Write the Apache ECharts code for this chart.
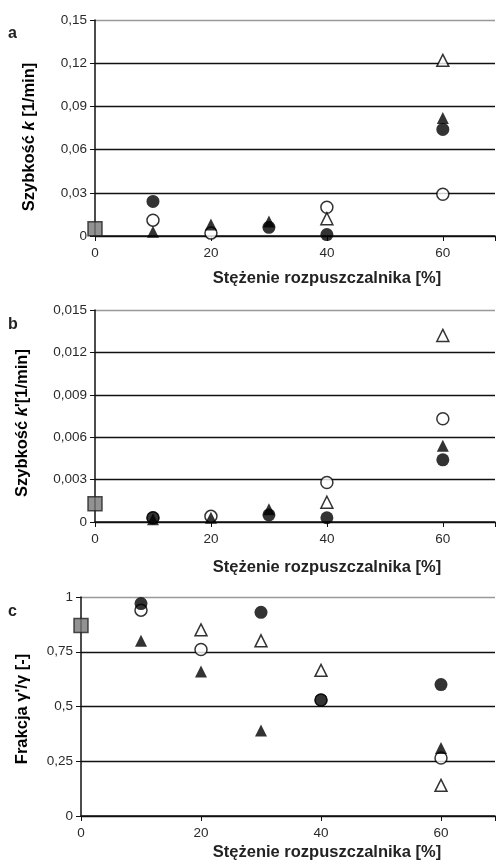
<!DOCTYPE html>
<html>
<head>
<meta charset="utf-8">
<script src="https://cdn.jsdelivr.net/npm/echarts@6/dist/echarts.min.js"></script>
<style>
html,body{margin:0;padding:0;background:#fff;}
#chart{width:498px;height:861px;}
</style>
</head>
<body>
<div id="chart"></div>
<script>
// ---- data ----
const xValues = [10, 20, 30, 40, 60];

// panel a: Szybkość k [1/min]
const aFilledCircle   = [0.024, null, 0.006, 0.001, 0.074];
const aOpenCircle     = [0.011, 0.002, null, 0.020, 0.029];
const aFilledTriangle = [0.003, 0.008, 0.010, null, 0.082];
const aOpenTriangle   = [null, null, null, 0.012, 0.122];
const aControl = 0.005;
const aTicks = ['0', '0,03', '0,06', '0,09', '0,12', '0,15'];

// panel b: Szybkość k' [1/min]
const bFilledCircle   = [0.0003, null, 0.0005, 0.0003, 0.0044];
const bOpenCircle     = [0.0003, 0.0004, null, 0.0028, 0.0073];
const bFilledTriangle = [0.0002, 0.0003, 0.0009, null, 0.0054];
const bOpenTriangle   = [null, null, null, 0.0014, 0.0132];
const bControl = 0.0013;
const bTicks = ['0', '0,003', '0,006', '0,009', '0,012', '0,015'];

// panel c: Frakcja γ'/γ [-]
const cFilledCircle   = [0.97, null, 0.93, 0.53, 0.60];
const cOpenCircle     = [0.94, 0.76, null, 0.53, 0.265];
const cFilledTriangle = [0.80, 0.66, 0.39, null, 0.31];
const cOpenTriangle   = [null, 0.85, 0.80, 0.665, 0.14];
const cControl = 0.87;
const cTicks = ['0', '0,25', '0,5', '0,75', '1'];

const xTicks = ['0', '20', '40', '60'];

// ---- chart ----
const chart = echarts.init(document.getElementById('chart'));

function pairs(arr) {
  const out = [];
  arr.forEach((v, i) => { if (v !== null) out.push([xValues[i], v]); });
  return out;
}

const grids = [
  {left: 95, top: 20, right: -15, height: 216},
  {left: 95, top: 310, right: -15, height: 212},
  {left: 81, top: 597, right: -17, height: 219}
];
const yInfo = [
  {max: 0.15, interval: 0.03, ticks: aTicks},
  {max: 0.015, interval: 0.003, ticks: bTicks},
  {max: 1, interval: 0.25, ticks: cTicks}
];
const panels = [
  [aFilledCircle, aOpenCircle, aFilledTriangle, aOpenTriangle, aControl],
  [bFilledCircle, bOpenCircle, bFilledTriangle, bOpenTriangle, bControl],
  [cFilledCircle, cOpenCircle, cFilledTriangle, cOpenTriangle, cControl]
];

const xAxes = [], yAxes = [], series = [];
grids.forEach((g, i) => {
  xAxes.push({
    type: 'value', gridIndex: i, min: 0, max: 69, interval: 20,
    axisLine: {show: true, lineStyle: {color: '#111', width: 1.5}},
    axisTick: {show: true, length: 5, lineStyle: {color: '#111'}},
    axisLabel: {
      color: '#2a2a2a', fontSize: 13.5, fontFamily: 'Liberation Sans, Arial', margin: 10,
      formatter: v => (v <= 60 ? xTicks[Math.round(v / 20)] : '')
    },
    splitLine: {show: false}
  });
  const yi = yInfo[i];
  const nLines = yi.ticks.length;
  const colors = [];
  for (let k = 0; k < nLines; k++) colors.push(k === nLines - 1 ? '#999' : '#111');
  yAxes.push({
    type: 'value', gridIndex: i, min: 0, max: yi.max, interval: yi.interval,
    axisLine: {show: true, lineStyle: {color: '#111', width: 1.5}},
    axisTick: {show: true, length: 5, lineStyle: {color: '#111'}},
    axisLabel: {
      color: '#2a2a2a', fontSize: 13.5, fontFamily: 'Liberation Sans, Arial', margin: 8,
      formatter: v => yi.ticks[Math.round(v / yi.interval)]
    },
    splitLine: {show: true, lineStyle: {color: colors, width: 1.4}}
  });
  const p = panels[i];
  const base = {type: 'scatter', xAxisIndex: i, yAxisIndex: i, symbolSize: 12, silent: true};
  series.push(Object.assign({}, base, {
    data: pairs(p[1]), symbol: 'circle',
    itemStyle: {color: '#fff', borderColor: '#000', borderWidth: 1.5}
  }));
  series.push(Object.assign({}, base, {
    data: pairs(p[3]), symbol: 'triangle',
    itemStyle: {color: '#fff', borderColor: '#000', borderWidth: 1.5}
  }));
  series.push(Object.assign({}, base, {
    data: pairs(p[2]), symbol: 'triangle',
    itemStyle: {color: '#000'}
  }));
  series.push(Object.assign({}, base, {
    data: pairs(p[0]), symbol: 'circle', symbolSize: 13,
    itemStyle: {color: '#000'}
  }));
  series.push(Object.assign({}, base, {
    data: [[0, p[4]]], symbol: 'rect', symbolSize: 14,
    itemStyle: {color: '#777', borderColor: '#222', borderWidth: 1.5}
  }));
});

const titleFont = {fontSize: 16.5, fontWeight: 'bold', fontFamily: 'Liberation Sans, Arial', fill: '#222'};
function xTitle(y) {
  return {type: 'text', x: 327, y: y, style: Object.assign({text: 'Stężenie rozpuszczalnika [%]', align: 'center', verticalAlign: 'middle'}, titleFont)};
}
function yTitle(x, y, parts) {
  return {
    type: 'text', x: x, y: y, rotation: Math.PI / 2,
    style: {
      text: parts.map(p => p[1] ? '{i|' + p[0] + '}' : '{n|' + p[0] + '}').join(''),
      align: 'center', verticalAlign: 'middle',
      rich: {
        n: {fontSize: 16.5, fontWeight: 'bold', fontFamily: 'Liberation Sans, Arial', color: '#222'},
        i: {fontSize: 16.5, fontWeight: 'bold', fontStyle: 'italic', fontFamily: 'Liberation Sans, Arial', color: '#222'}
      }
    }
  };
}
function letter(t, x, y) {
  return {type: 'text', x: x, y: y, style: {text: t, fontSize: 16, fontWeight: 'bold', fontFamily: 'Liberation Sans, Arial', fill: '#222', verticalAlign: 'middle'}};
}

chart.setOption({
  animation: false,
  backgroundColor: '#fff',
  grid: grids,
  xAxis: xAxes,
  yAxis: yAxes,
  series: series,
  graphic: [
    xTitle(278), xTitle(567), xTitle(852),
    yTitle(29, 137, [['Szybkość ', false], ['k', true], [' [1/min]', false]]),
    yTitle(22, 423, [['Szybkość ', false], ['k', true], ["'[1/min]", false]]),
    yTitle(22, 709, [["Frakcja γ'/γ [-]", false]]),
    letter('a', 8, 34), letter('b', 8, 325), letter('c', 8, 612)
  ]
});
</script>
</body>
</html>
